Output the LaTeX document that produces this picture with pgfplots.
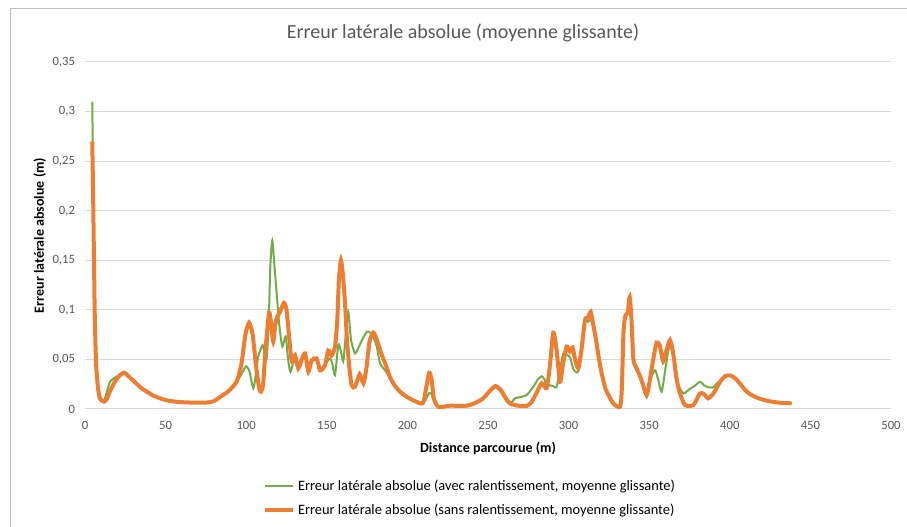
\documentclass[border=0pt]{standalone}
\usepackage{fontspec}
\setmainfont{Carlito}
\usepackage{pgfplots}
\pgfplotsset{compat=1.18}
\definecolor{xlgreen}{HTML}{70AD47}
\definecolor{xlorange}{HTML}{ED7D31}
\definecolor{xlgray}{HTML}{595959}
\definecolor{xlgrid}{HTML}{D9D9D9}
\pgfplotstableread{
x y
4.5 0.31
5.0 0.24
5.5 0.17
6.0 0.105
6.5 0.067
7.0 0.043
8.0 0.022
9.0 0.013
10.0 0.010
11.8 0.0085
13.5 0.017
15.5 0.0275
18 0.031
21 0.034
24.4 0.0366
27 0.033
31 0.027
35 0.021
38.3 0.0175
43 0.013
50 0.009
57 0.0072
67 0.0064
75 0.0064
80 0.008
84 0.0124
89 0.018
94 0.027
97 0.035
99.9 0.043
102 0.038
104.4 0.0208
106 0.035
107.5 0.053
110.2 0.0645
111.5 0.055
112.7 0.051
114 0.09
115 0.145
116.2 0.170
117.5 0.145
118.9 0.1166
120.5 0.085
122.4 0.063
124.5 0.073
126 0.05
127.5 0.0376
130.3 0.053
132.3 0.043
134.5 0.05
136.5 0.052
138.6 0.04
140.6 0.048
143.7 0.05
145.8 0.04
148.9 0.045
152 0.051
153.5 0.045
155.1 0.034
157.1 0.0645
158.5 0.06
160.2 0.048
161.5 0.07
163.3 0.098
165 0.07
167.5 0.056
170 0.063
172 0.07
174.8 0.078
177 0.077
179 0.072
181 0.063
183.1 0.046
187.1 0.037
190 0.029
195.4 0.0175
199.5 0.0124
204 0.0085
209.5 0.0057
211.5 0.01
213.5 0.016
215 0.015
216.5 0.008
219.2 0.002
223 0.0025
226.4 0.0033
236.8 0.0033
242 0.006
247 0.0107
251 0.017
254.7 0.022
258 0.017
261 0.009
263.6 0.005
266.7 0.0107
270 0.012
273.9 0.014
278 0.022
281 0.03
283.3 0.033
285 0.03
286.4 0.0225
288 0.024
290.5 0.023
292.5 0.022
294.7 0.04
296.7 0.056
298.8 0.055
300.9 0.052
303 0.04
305 0.037
306 0.039
308 0.06
310.2 0.0897
312 0.088
313.7 0.09
315.3 0.0847
317 0.07
318.4 0.055
320 0.04
323 0.02
327.7 0.0057
331.9 0.0023
333 0.02
334 0.075
335 0.093
336.7 0.098
337.9 0.113
339 0.09
340.2 0.05
342.2 0.041
345.3 0.026
348.4 0.013
350.5 0.029
353.6 0.039
355.5 0.03
357.7 0.0175
360 0.04
362 0.06
363.9 0.063
366 0.045
368 0.025
371.2 0.0157
375 0.02
378 0.023
381.5 0.0275
384 0.024
386.6 0.022
389.8 0.0218
392 0.026
394 0.0275
397 0.033
400.1 0.034
404 0.03
410.5 0.0175
416 0.012
422.9 0.0084
430 0.0065
438.3 0.0057
}\avec
\pgfplotstableread{
x y
4.5 0.27
5.0 0.22
5.5 0.16
6.0 0.10
6.5 0.065
7.0 0.042
8.0 0.022
9.0 0.012
10.0 0.009
11.8 0.0074
13.5 0.010
15.5 0.018
18 0.026
21 0.033
24.4 0.0366
27 0.033
31 0.027
35 0.021
38.3 0.0175
43 0.013
50 0.009
57 0.0072
67 0.0064
75 0.0064
80 0.008
84 0.0124
89 0.018
94 0.0275
97 0.045
99.5 0.075
101.8 0.087
104 0.075
106 0.045
108 0.021
109.2 0.0175
110.5 0.025
112 0.06
114.2 0.097
115.5 0.085
116.8 0.068
118 0.085
119.3 0.093
121 0.098
123.4 0.107
125 0.1
126.5 0.075
128 0.05
129 0.048
130.3 0.054
132.3 0.041
134.5 0.05
136.5 0.056
138.6 0.0376
140.6 0.049
143.7 0.051
145.8 0.039
148.9 0.044
150.9 0.059
153 0.054
155.1 0.063
156.5 0.09
157.5 0.13
158.8 0.150
160 0.135
161.3 0.1065
162.5 0.07
163.8 0.045
165.4 0.024
167.5 0.0225
170.4 0.035
172.7 0.026
174.5 0.04
176.5 0.068
178.9 0.077
181 0.07
184 0.055
187 0.0426
189.2 0.032
192 0.024
195.4 0.0175
199.5 0.0124
204 0.0085
209.5 0.0057
211.5 0.02
213.5 0.0366
215 0.03
216.5 0.01
219.2 0.002
223 0.0025
226.4 0.0033
236.8 0.0033
242 0.006
247 0.0107
251 0.018
254.7 0.0232
258 0.019
261 0.011
263.6 0.0057
268 0.0035
273.9 0.003
277 0.007
280 0.016
283.3 0.026
286.4 0.021
288.5 0.045
290.5 0.077
292.5 0.06
294.7 0.0275
296.5 0.045
298.8 0.063
300.9 0.058
302.5 0.062
304 0.05
306 0.041
308 0.06
310.2 0.0897
312 0.092
313.7 0.098
315.3 0.0847
317 0.07
318.4 0.055
320 0.04
323 0.02
327.7 0.0057
331.9 0.0023
333 0.02
334 0.075
335 0.093
336.7 0.098
337.9 0.113
339 0.09
340.2 0.05
342.2 0.041
345.3 0.029
348.4 0.014
350.5 0.03
352.5 0.05
354.6 0.067
356.5 0.064
358.7 0.048
360.5 0.058
362.9 0.0695
365 0.055
367 0.03
369.1 0.0157
372.2 0.004
377.4 0.004
381.5 0.0157
384 0.015
386.6 0.0107
390 0.016
394 0.0275
397 0.033
400.1 0.034
404 0.03
410.5 0.0175
416 0.012
422.9 0.0084
430 0.0065
438.3 0.0057
}\sans
\begin{document}
\begin{tikzpicture}
\path[use as bounding box] (0pt,0pt) rectangle (680.25pt,395.25pt);
\clip (0pt,0pt) rectangle (680.25pt,395.25pt);
\fill[white] (0pt,0pt) rectangle (680.25pt,395.25pt);
\draw[color=xlgrid!70!gray, line width=0.75pt] (7.5pt,0pt) -- (7.5pt,388.5pt) -- (680.25pt,388.5pt);
\node[font=\fontsize{15}{17}\selectfont, text=xlgray] at (347.25pt,370.5pt) {Erreur latérale absolue (moyenne glissante)};
\begin{axis}[
  at={(63.75pt,88.5pt)}, anchor=south west,
  scale only axis, width=604.5pt, height=260.25pt,
  xmin=0, xmax=500, ymin=0, ymax=0.35,
  xtick={0,50,...,500},
  ytick={0,0.05,0.1,0.15,0.2,0.25,0.3,0.35},
  axis x line*=bottom, axis y line*=left,
  x axis line style={draw=xlgrid, line width=0.75pt, -},
  y axis line style={draw=none},
  ymajorgrids, grid style={xlgrid, line width=0.75pt},
  major tick length=0pt,
  tick label style={font=\fontsize{9.5}{11}\selectfont, text=xlgray},
  /pgf/number format/assume math mode=true,
  yticklabel style={/pgf/number format/.cd, use comma, fixed, precision=2},
  xticklabel style={/pgf/number format/.cd, use comma, fixed, precision=0},
  xticklabel shift=5.5pt, yticklabel shift=4pt,
  xlabel={\textbf{Distance parcourue (m)}},
  ylabel={\textbf{Erreur latérale absolue (m)}},
  label style={font=\fontsize{10.5}{12}\selectfont},
  xlabel style={yshift=-3pt},
  ylabel style={yshift=-2pt},
  legend style={at={(0.221,-0.195)}, anchor=north west, draw=none, fill=none,
    font=\fontsize{10.8}{12}\selectfont, row sep=5pt, inner sep=0pt,
    nodes={inner xsep=2pt}},
  legend cell align=left,
  legend image code/.code={\draw[#1] (0pt,0pt) -- (21pt,0pt);},
]
\addplot[xlgreen, line width=1.5pt, smooth, tension=0.4] table {\avec};
\addlegendentry{Erreur latérale absolue (avec ralentissement, moyenne glissante)}
\addplot[xlorange, line width=3pt, smooth, tension=0.4] table {\sans};
\addlegendentry{Erreur latérale absolue (sans ralentissement, moyenne glissante)}
\end{axis}
\end{tikzpicture}
\end{document}
